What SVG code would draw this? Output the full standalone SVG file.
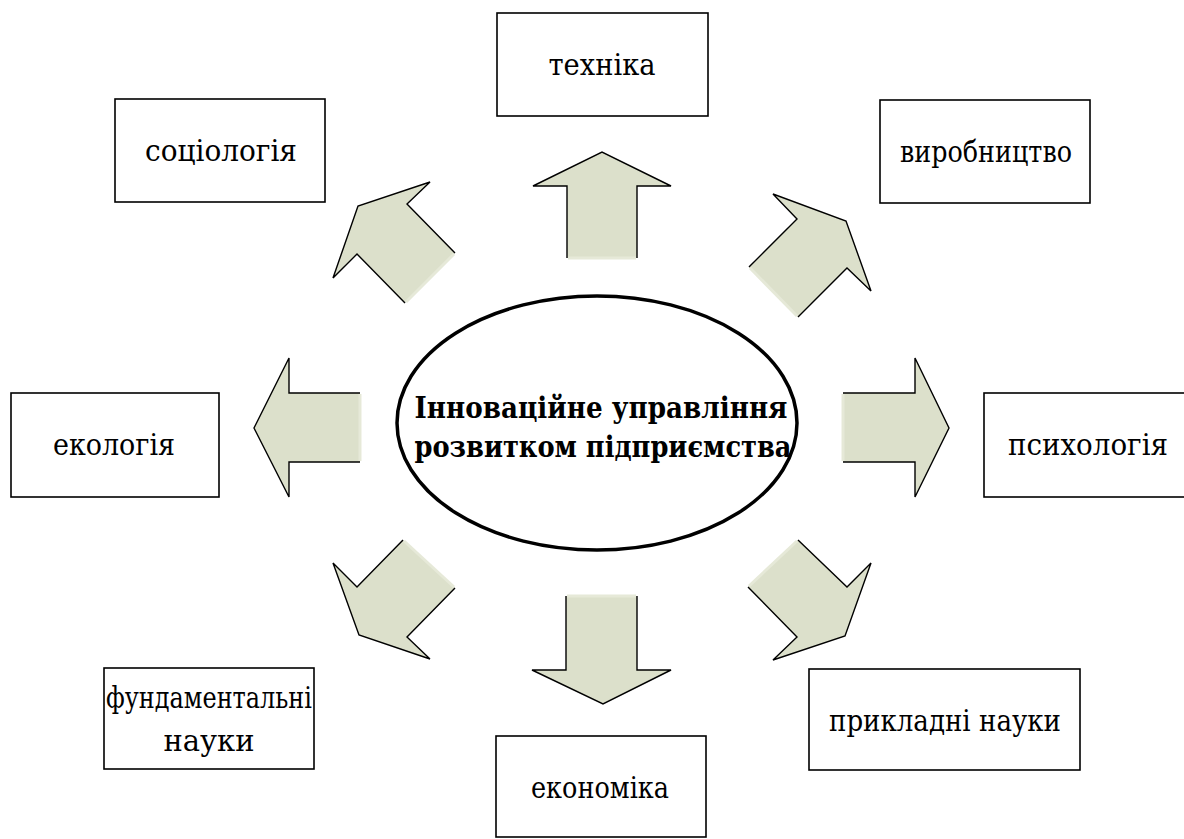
<svg xmlns="http://www.w3.org/2000/svg" width="1184" height="839" viewBox="0 0 1184 839">
<style>
.box{fill:#fff;stroke:#000;stroke-width:1.6}
.lbl{font-family:'DejaVu Serif','Liberation Serif',serif;font-size:29px;fill:#000;text-anchor:middle}
.ctr{font-family:'DejaVu Serif','Liberation Serif',serif;font-size:29px;font-weight:bold;fill:#000;text-anchor:middle}
.af{fill:#DCE0CB;stroke:none}
.ae{fill:none;stroke:#000;stroke-width:1.4;stroke-linejoin:miter}
.ab{fill:none;stroke:#E6E9D8;stroke-width:3}
</style>
<rect width="1184" height="839" fill="#fff"/>
<g id="connectors">
  <g id="arrow-top">
    <polygon class="af" points="567,258 567,186 533,186 602,152 671,186 637,186 637,258"/>
    <polyline class="ae" points="567,258 567,186 533,186 602,152 671,186 637,186 637,258"/>
    <line class="ab" x1="568" y1="258" x2="636" y2="258"/>
  </g>
  <g id="arrow-bottom">
    <polygon class="af" points="566,596 566,670 532,670 603,704 671,670 637,670 637,596"/>
    <polyline class="ae" points="566,596 566,670 532,670 603,704 671,670 637,670 637,596"/>
    <line class="ab" x1="567" y1="596" x2="636" y2="596"/>
  </g>
  <g id="arrow-left">
    <polygon class="af" points="360,393 289,393 289,358 254,428 289,497 289,462 360,462"/>
    <polyline class="ae" points="360,393 289,393 289,358 254,428 289,497 289,462 360,462"/>
    <line class="ab" x1="360" y1="394" x2="360" y2="461"/>
  </g>
  <g id="arrow-right">
    <polygon class="af" points="843,393 915,393 915,358 949,428 915,497 915,462 843,462"/>
    <polyline class="ae" points="843,393 915,393 915,358 949,428 915,497 915,462 843,462"/>
    <line class="ab" x1="843" y1="394" x2="843" y2="461"/>
  </g>
  <g id="arrow-upper-right">
    <polygon class="af" points="749,267 797,219 773,194 846,221 871,291 847,268 798,317"/>
    <polyline class="ae" points="749,267 797,219 773,194 846,221 871,291 847,268 798,317"/>
    <line class="ab" x1="750" y1="268" x2="797" y2="316"/>
  </g>
  <g id="arrow-upper-left">
    <polygon class="af" points="455,253 407,204 430,182 358,206 333,278 357,254 405,303"/>
    <polyline class="ae" points="455,253 407,204 430,182 358,206 333,278 357,254 405,303"/>
    <line class="ab" x1="454" y1="254" x2="406" y2="302"/>
  </g>
  <g id="arrow-lower-left">
    <polygon class="af" points="403,540 357,587 333,563 359,635 430,659 407,637 455,588"/>
    <polyline class="ae" points="403,540 357,587 333,563 359,635 430,659 407,637 455,588"/>
    <line class="ab" x1="404" y1="541" x2="454" y2="587"/>
  </g>
  <g id="arrow-lower-right">
    <polygon class="af" points="798,540 847,587 871,563 845,636 773,660 797,637 748,587"/>
    <polyline class="ae" points="798,540 847,587 871,563 845,636 773,660 797,637 748,587"/>
    <line class="ab" x1="797" y1="541" x2="749" y2="586"/>
  </g>
</g>
<g id="center">
  <ellipse cx="597" cy="423" rx="200" ry="127" fill="#fff" stroke="#000" stroke-width="3.5"/>
  <text class="ctr" x="601" y="418" textLength="373" lengthAdjust="spacingAndGlyphs">Інноваційне управління</text>
  <text class="ctr" x="603" y="457" textLength="377" lengthAdjust="spacingAndGlyphs">розвитком підприємства</text>
</g>
<g id="node-tekhnika">
  <rect class="box" x="497" y="13" width="211" height="103"/>
  <text class="lbl" x="602" y="75" textLength="107" lengthAdjust="spacingAndGlyphs">техніка</text>
</g>
<g id="node-sotsiolohiia">
  <rect class="box" x="115" y="99" width="210" height="103"/>
  <text class="lbl" x="221" y="161" textLength="152" lengthAdjust="spacingAndGlyphs">соціологія</text>
</g>
<g id="node-vyrobnytstvo">
  <rect class="box" x="880" y="100" width="210" height="103"/>
  <text class="lbl" x="986" y="162" textLength="172" lengthAdjust="spacingAndGlyphs">виробництво</text>
</g>
<g id="node-ekolohiia">
  <rect class="box" x="11" y="393" width="208" height="104"/>
  <text class="lbl" x="114" y="455" textLength="122" lengthAdjust="spacingAndGlyphs">екологія</text>
</g>
<g id="node-psykholohiia">
  <rect class="box" x="984" y="393" width="215" height="104"/>
  <text class="lbl" x="1088" y="455" textLength="160" lengthAdjust="spacingAndGlyphs">психологія</text>
</g>
<g id="node-fundamentalni">
  <rect class="box" x="104" y="668" width="210" height="101"/>
  <text class="lbl" x="209" y="708" textLength="206" lengthAdjust="spacingAndGlyphs">фундаментальні</text>
  <text class="lbl" x="209" y="751">науки</text>
</g>
<g id="node-ekonomika">
  <rect class="box" x="496" y="736" width="210" height="101"/>
  <text class="lbl" x="600" y="798" textLength="138" lengthAdjust="spacingAndGlyphs">економіка</text>
</g>
<g id="node-prykladni">
  <rect class="box" x="809" y="669" width="271" height="101"/>
  <text class="lbl" x="945" y="731" textLength="232" lengthAdjust="spacingAndGlyphs">прикладні науки</text>
</g>
</svg>
